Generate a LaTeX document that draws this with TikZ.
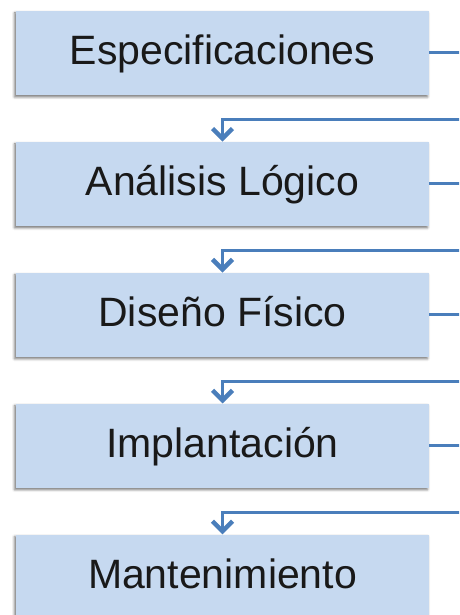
\documentclass[tikz,border=0pt]{standalone}
\usepackage{fontspec}
\setmainfont{Liberation Sans}
\usetikzlibrary{positioning,calc,arrows.meta,shadows.blur}
\definecolor{boxblue}{HTML}{C6D9F0}
\definecolor{linkblue}{HTML}{4A7EBB}
\begin{document}
\begin{tikzpicture}[
    phase/.style={fill=boxblue,minimum width=413pt,minimum height=84pt,inner sep=0pt,
        text height=32pt,text depth=8pt,text=black!90,
        font=\fontsize{41}{48}\selectfont,
        blur shadow={shadow xshift=-1.5pt,shadow yshift=-2pt,shadow blur radius=2.5pt,shadow opacity=55}},
    link/.style={draw=linkblue,line width=3pt,-{Straight Barb[length=10pt,width=20pt,line width=4.5pt]}},
    node distance=46.5pt]
    \useasboundingbox (0,0) rectangle (459pt,615pt);
    \clip (0,0) rectangle (459pt,615pt);
    \node[phase] (esp) at (222.5pt,562pt) {Especificaciones};
    \node[phase,below=of esp] (ana) {Análisis Lógico};
    \node[phase,below=of ana] (dis) {Diseño Físico};
    \node[phase,below=of dis] (imp) {Implantación};
    \node[phase,below=of imp] (man) {Mantenimiento};
    % feedback links leave the frame on the right
    \foreach \a/\b in {esp/ana,ana/dis,dis/imp,imp/man}
        \draw[link] (\a.east) -- ++(50pt,0) |- ($(\b.north)+(0,22pt)$) -- (\b.north);
\end{tikzpicture}
\end{document}
